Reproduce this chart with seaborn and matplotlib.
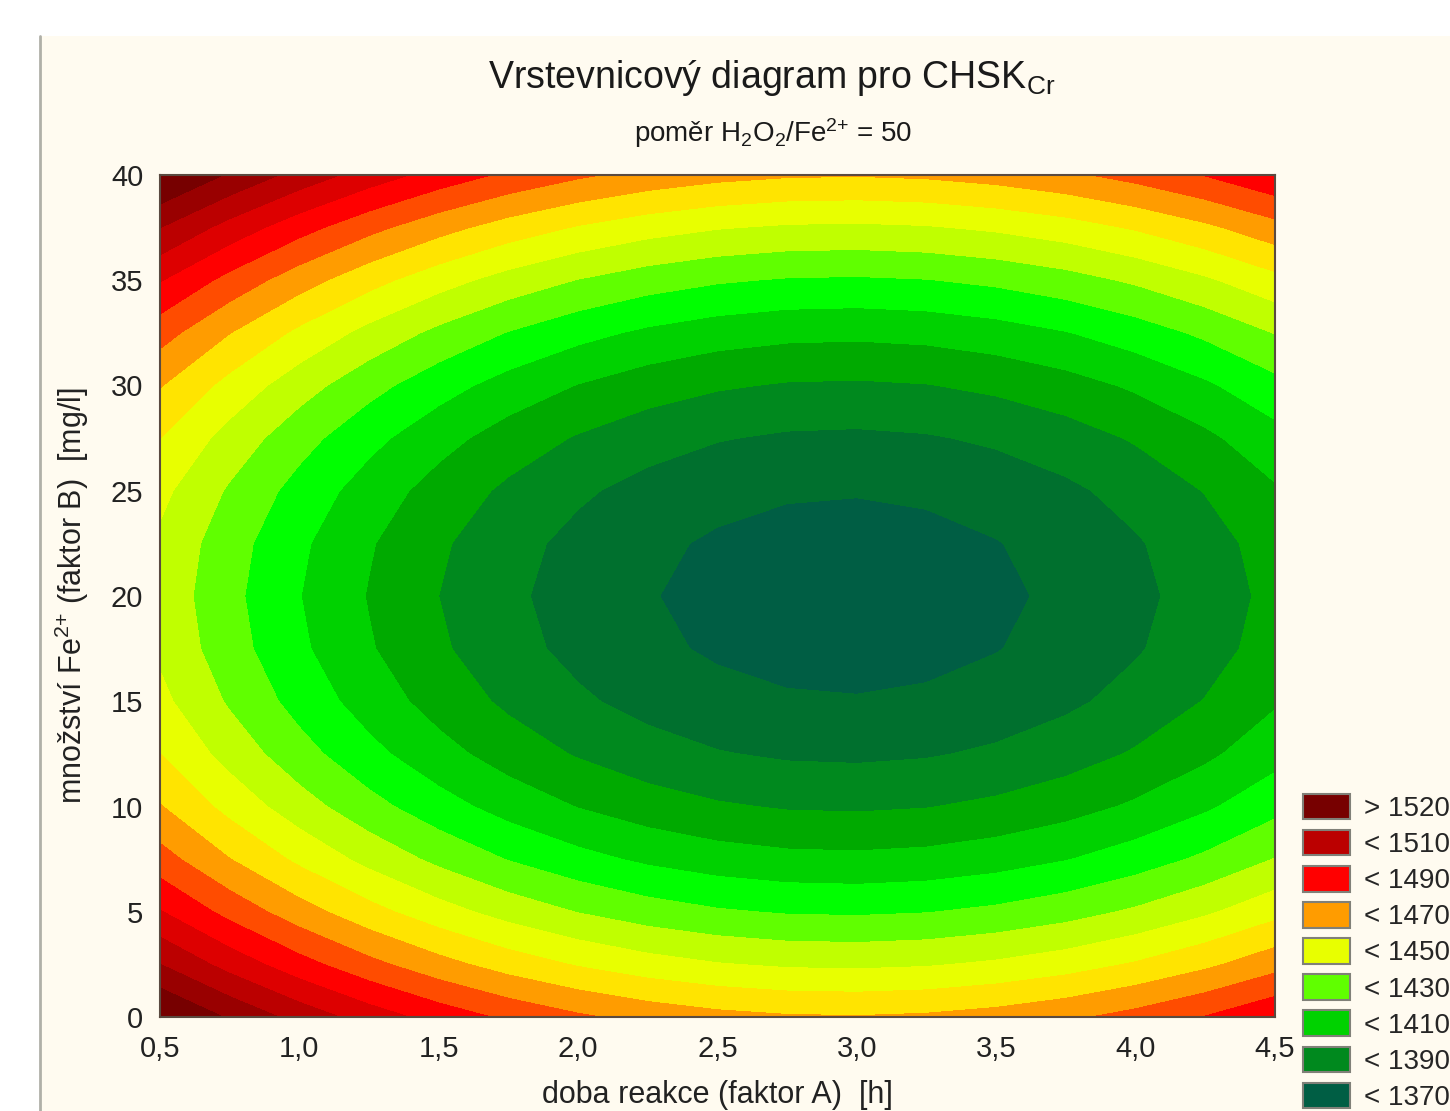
import numpy as np
import matplotlib.pyplot as plt
import seaborn as sns
from matplotlib.patches import Patch, Rectangle
from matplotlib.lines import Line2D
from matplotlib.ticker import FuncFormatter

sns.set_theme(style="white")
plt.rcParams['font.family'] = ['Liberation Sans', 'DejaVu Sans']
plt.rcParams['mathtext.default'] = 'regular'

# doba reakce [h] (faktor A) and mnozstvi Fe2+ [mg/l] (faktor B)
doba = [0.5, 0.75, 1.0, 1.25, 1.5, 1.75, 2.0, 2.25, 2.5, 2.75,
        3.0, 3.25, 3.5, 3.75, 4.0, 4.25, 4.5]
mnozstvi = [0, 2.5, 5, 7.5, 10, 12.5, 15, 17.5, 20, 22.5,
            25, 27.5, 30, 32.5, 35, 37.5, 40]

# CHSK_Cr read along the middle row (mnozstvi = 20) for each doba
chsk_stred = [1436.6, 1422.7, 1410.3, 1399.4, 1390.0, 1382.0, 1375.6, 1370.6, 1367.1,
              1365.1, 1364.6, 1365.6, 1368.1, 1372.0, 1377.5, 1384.4, 1392.8]
# rise of CHSK_Cr above that row for each mnozstvi
chsk_narust = [96.0, 73.5, 54.0, 37.5, 24.0, 13.5, 6.0, 1.5, 0.0,
               1.5, 6.0, 13.5, 24.0, 37.5, 54.0, 73.5, 96.0]

x_ticks = [0.5, 1.0, 1.5, 2.0, 2.5, 3.0, 3.5, 4.0, 4.5]
y_ticks = [0, 5, 10, 15, 20, 25, 30, 35, 40]

levels = [1300, 1370, 1380, 1390, 1400, 1410, 1420, 1430, 1440, 1450,
          1460, 1470, 1480, 1490, 1500, 1510, 1520, 1600]
band_colors = ['#005E44', '#00702E', '#00891E', '#00AA00', '#00D200', '#00FF00',
               '#60FF00', '#C0FF00', '#E8FF00', '#FFE400', '#FF9C00', '#FF4C00',
               '#FF0000', '#DD0000', '#BB0000', '#990000', '#770000']

legend_labels = ['> 1520', '< 1510', '< 1490', '< 1470', '< 1450',
                 '< 1430', '< 1410', '< 1390', '< 1370']
legend_colors = ['#770000', '#BB0000', '#FF0000', '#FF9C00', '#E8FF00',
                 '#60FF00', '#00D200', '#00891E', '#005E44']

W, H = 1450, 1111
fig = plt.figure(figsize=(W / 100, H / 100), dpi=100)
fig.patch.set_facecolor('white')
fig.patches.append(Rectangle((41 / W, 0), 1, 1 - 36 / H, transform=fig.transFigure,
                             facecolor='#FFFBF0', edgecolor='none', zorder=-2))
fig.lines.append(Line2D([40 / W, 40 / W], [0, 1 - 36 / H], transform=fig.transFigure,
                        color='#B0B0A8', lw=2, zorder=-1))

ax = fig.add_axes([160 / W, 1 - 1017 / H, (1275 - 160) / W, (1017 - 175) / H])
X, Y = np.meshgrid(doba, mnozstvi)
Z = np.array(chsk_narust)[:, None] + np.array(chsk_stred)[None, :]
ax.contourf(X, Y, Z, levels=levels, colors=band_colors)
ax.set_xlim(0.5, 4.5)
ax.set_ylim(0, 40)

ax.set_xticks(x_ticks)
ax.set_yticks(y_ticks)
ax.xaxis.set_major_formatter(FuncFormatter(lambda v, p: f"{v:.1f}".replace('.', ',')))
ax.tick_params(direction='in', length=5, width=1.2, color='#333333',
               top=True, right=True, bottom=True, left=True,
               labelsize=21, labelcolor='#222222')
ax.tick_params(axis='x', pad=13)
ax.tick_params(axis='y', pad=12)
for s in ax.spines.values():
    s.set_color('#5a4a40')
    s.set_linewidth(1.5)

ax.set_xlabel('doba reakce (faktor A)  [h]', fontsize=22, labelpad=12, color='#222222')
ax.set_ylabel('množství Fe$^{2{+}}$ (faktor B)  [mg/l]', fontsize=22, labelpad=14,
              color='#222222')

fig.text(772 / W, 1 - 78 / H, 'Vrstevnicový diagram pro CHSK$_{Cr}$',
         ha='center', va='center', fontsize=27, color='#1a1a1a')
fig.text(773 / W, 1 - 133 / H, 'poměr H$_2$O$_2$/Fe$^{2{+}}$ = 50',
         ha='center', va='center', fontsize=20, color='#1a1a1a')

handles = [Patch(facecolor=c, edgecolor='#808078', linewidth=1.5) for c in legend_colors]
fig.legend(handles, legend_labels, loc='upper left',
           bbox_to_anchor=(1297 / W, 1 - 788 / H), frameon=False,
           fontsize=20, handlelength=1.7, handleheight=1.05,
           handletextpad=0.5, labelspacing=0.28, borderaxespad=0, borderpad=0.2)

fig.savefig('out.png', dpi=100)
